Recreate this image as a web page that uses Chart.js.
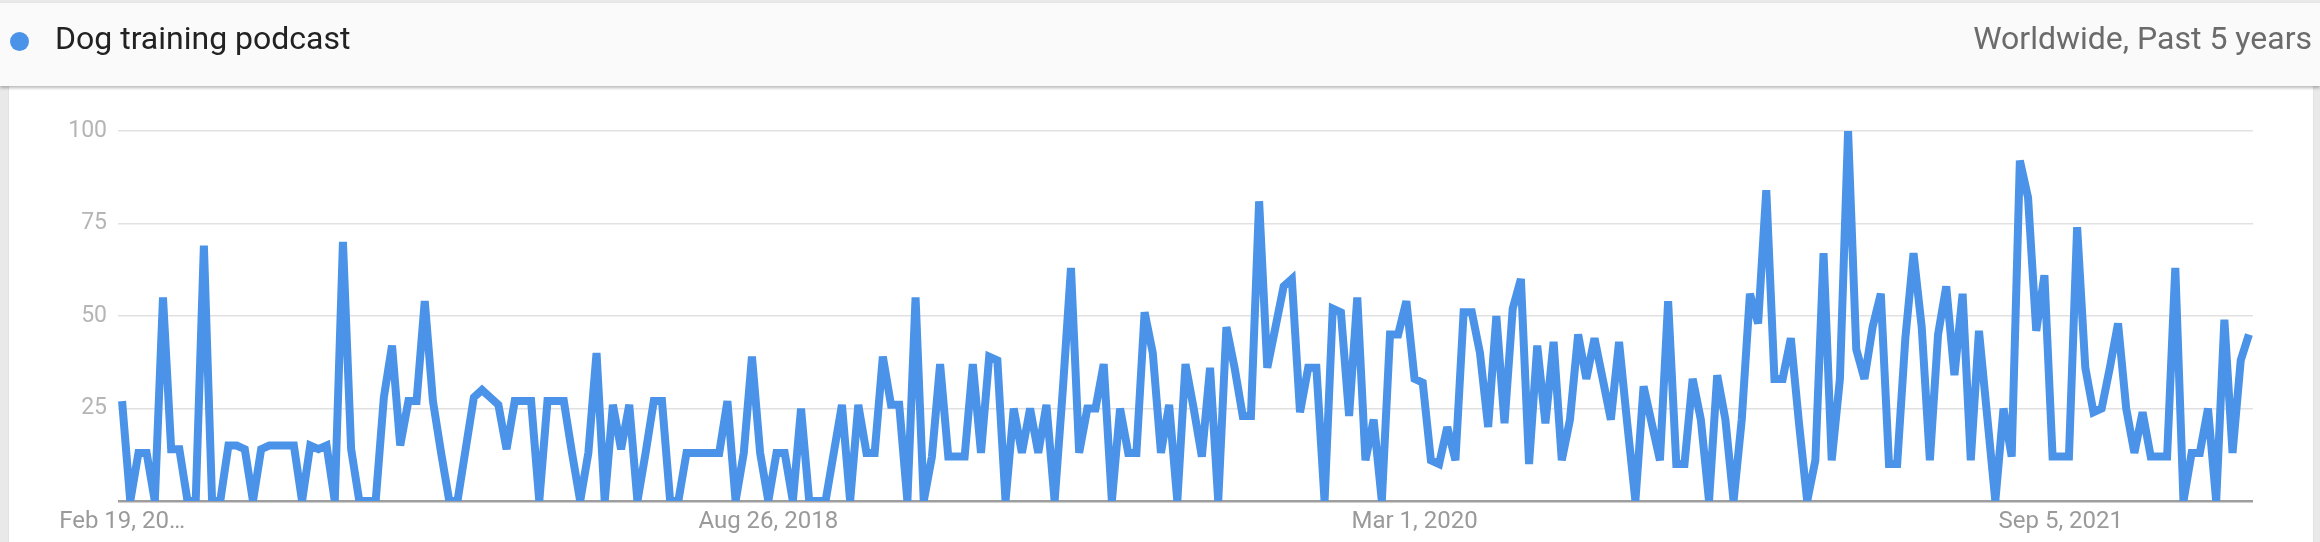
<!DOCTYPE html>
<html>
<head>
<meta charset="utf-8">
<script src="https://cdn.jsdelivr.net/npm/chart.js@4.4.1/dist/chart.umd.min.js"></script>
<style>
html,body{margin:0;padding:0;}
body{width:2320px;height:542px;background:#e9e9e9;position:relative;overflow:hidden;font-family:Roboto,"Noto Sans",sans-serif;}
#head{position:absolute;left:0;top:3px;width:2320px;height:83px;background:#fafafa;box-shadow:0 2px 3px rgba(0,0,0,0.28);z-index:2;}
#dot{position:absolute;left:10px;top:29px;width:19px;height:19px;border-radius:50%;background:#4a93e8;}
#term{position:absolute;left:55px;top:15px;font-size:32px;color:#222;line-height:40px;}
#scope{position:absolute;right:8px;top:15px;font-size:32px;color:#6b6b6b;line-height:40px;}
#card{position:absolute;left:8px;top:86px;width:2304px;height:460px;background:#fff;border-left:1px solid #e2e2e2;border-right:1px solid #e2e2e2;}
#wrap{position:absolute;left:0;top:88px;width:2320px;height:454px;}
</style>
</head>
<body>
<div id="head"><div id="dot"></div><div id="term">Dog training podcast</div><div id="scope">Worldwide, Past 5 years</div></div>
<div id="card"></div>
<div id="wrap"><canvas id="trend"></canvas></div>
<script>
// weekly interest, Feb 19 2017 .. Feb 13 2022
const interest=[
27,0,13,13,0,55,14,14,0,0,69,0,0,15,15,14,0,14,15,15,15,15,0,15,14,15,0,70,14,0,
0,0,28,42,15,27,27,54,27,13,0,0,14,28,30,28,26,14,27,27,27,0,27,27,27,13,0,13,40,
0,26,14,26,0,13,27,27,0,0,13,13,13,13,13,27,0,13,39,13,0,13,13,0,25,0,0,0,13,
26,0,26,13,13,39,26,26,0,55,0,12,37,12,12,12,37,13,39,38,0,25,13,25,13,26,0,30,63,13,
25,25,37,0,25,13,13,51,40,13,26,0,37,25,12,36,0,47,36,23,23,81,36,47,58,60,24,36,36,
0,52,51,23,55,11,22,0,45,45,54,33,32,11,10,20,11,51,51,40,20,50,21,52,60,10,42,21,43,
11,22,45,33,44,33,22,43,21,0,31,21,11,54,10,10,33,22,0,34,22,0,22,56,48,84,33,33,44,21,
0,11,67,11,33,100,41,33,47,56,10,10,44,67,47,11,45,58,34,56,11,46,23,0,25,12,92,82,46,
61,12,12,12,74,36,24,25,36,48,25,13,24,12,12,12,63,0,13,13,25,0,49,13,38,45
];
const startDate=new Date(2017,1,19);
const weeks=interest.map((v,i)=>{const d=new Date(startDate);d.setDate(d.getDate()+7*i);return d.toDateString();});
const tickIdx=[0,79,158,237];
const tickText=["Feb 19, 20\u2026","Aug 26, 2018","Mar 1, 2020","Sep 5, 2021"];
const yTicks=[0,25,50,75,100];

// svg-like miter limit so sharp spikes get flat tops
const miter={id:"miter",beforeDatasetsDraw(chart){chart.ctx.miterLimit=4;}};

new Chart(document.getElementById("trend"),{
  type:"line",
  data:{labels:weeks,datasets:[{data:interest,borderColor:"#4a93e8",borderWidth:8,pointRadius:0,tension:0,borderJoinStyle:"miter",fill:false}]},
  options:{
    responsive:true,maintainAspectRatio:false,animation:false,
    layout:{padding:{top:43,right:67,bottom:0,left:0}},
    plugins:{legend:{display:false},tooltip:{enabled:false}},
    scales:{
      x:{offset:true,grid:{display:false,drawTicks:false},border:{display:false},
        afterFit:s=>{s.height=41;},
        ticks:{autoSkip:false,maxRotation:0,padding:7,color:"#9a9a9a",font:{family:"Roboto",size:24},
          callback:(v,i)=>{const k=tickIdx.indexOf(i);return k<0?"":tickText[k];}}},
      y:{min:0,max:100,border:{display:false},
        afterFit:s=>{s.width=118;},
        afterBuildTicks:s=>{s.ticks=yTicks.map(v=>({value:v}));},
        grid:{drawTicks:false,color:c=>c.tick.value===0?"#9e9e9e":"#e1e1e1",lineWidth:c=>c.tick.value===0?2.5:1.5},
        ticks:{padding:11,color:"#b5b5b5",font:{family:"Roboto",size:23},callback:v=>v===0?"":v}}
    }
  },
  plugins:[miter]
});
</script>
</body>
</html>
